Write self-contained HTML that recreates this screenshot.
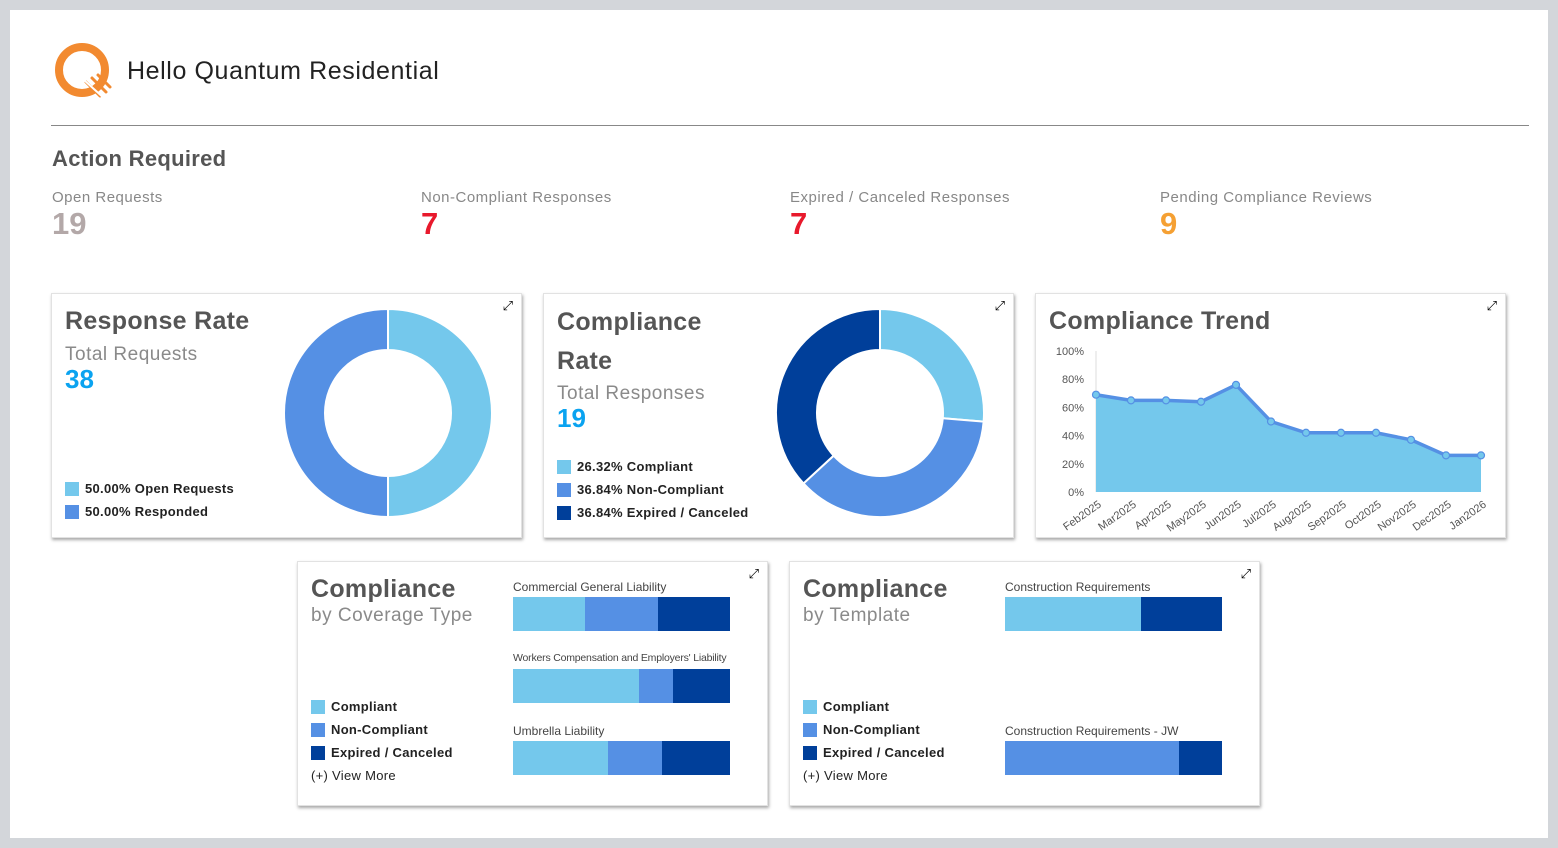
<!DOCTYPE html>
<html><head><meta charset="utf-8"><style>
*{margin:0;padding:0;box-sizing:border-box}
body{width:1558px;height:848px;background:#d3d6da;font-family:"Liberation Sans",sans-serif;position:relative;overflow:hidden}
#panel{position:absolute;left:10px;top:10px;width:1538px;height:828px;background:#fff}
.abs{position:absolute}
.card{position:absolute;background:#fff;box-shadow:1px 2px 3px rgba(0,0,0,.35);border:1px solid #e2e2e2}
.title{font-weight:bold;color:#555;font-size:25px;letter-spacing:.3px}
.sub{color:#8a8a8a;font-size:19px;letter-spacing:.5px}
.big{font-weight:bold;color:#0aa3f0;font-size:26px}
.lg{font-size:13px;font-weight:bold;color:#222;display:flex;align-items:center;height:23px;letter-spacing:.3px}
.sw{width:14px;height:14px;margin-right:6px}
.kl{font-size:15px;color:#888;letter-spacing:.5px}
.kv{font-size:31px;font-weight:bold}
.exp{position:absolute;right:8px;top:4px;font-size:13px;color:#000}
.bl{font-size:12px;color:#444;position:absolute}
</style></head><body>
<div id="panel"></div>
<svg class="abs" style="left:54px;top:42px" width="60" height="60">
<circle cx="28" cy="28" r="23" fill="none" stroke="#f28a30" stroke-width="8"/>
<g stroke="#f28a30" stroke-width="3" stroke-linecap="round"><line x1="32" y1="40" x2="46" y2="54"/><line x1="38" y1="36" x2="52" y2="50"/><line x1="44" y1="33" x2="56" y2="45"/></g>
<line x1="30" y1="38" x2="52" y2="58" stroke="#fff" stroke-width="2"/></svg>
<div class="abs" style="left:127px;top:57px;font-size:25px;color:#222;letter-spacing:.6px">Hello Quantum Residential</div>
<div class="abs" style="left:51px;top:125px;width:1478px;height:1px;background:#888"></div>
<div class="abs" style="left:52px;top:146px;font-size:22px;font-weight:bold;color:#555;letter-spacing:.3px">Action Required</div>

<div class="abs" style="left:52px;top:189px"><div class="kl">Open Requests</div><div class="kv" style="color:#b3a8a8">19</div></div>
<div class="abs" style="left:421px;top:189px"><div class="kl">Non-Compliant Responses</div><div class="kv" style="color:#e8192c">7</div></div>
<div class="abs" style="left:790px;top:189px"><div class="kl">Expired / Canceled Responses</div><div class="kv" style="color:#e8192c">7</div></div>
<div class="abs" style="left:1160px;top:189px"><div class="kl">Pending Compliance Reviews</div><div class="kv" style="color:#f5a033">9</div></div>

<div class="card" style="left:51px;top:293px;width:471px;height:245px">
<div class="exp">⤢</div>
<div class="abs title" style="left:13px;top:13px">Response Rate</div>
<div class="abs sub" style="left:13px;top:50px">Total Requests</div>
<div class="abs big" style="left:13px;top:70px">38</div>
<div class="abs" style="left:13px;top:183px">
<div class="lg"><span class="sw" style="background:#74c8ec"></span>50.00% Open Requests</div>
<div class="lg"><span class="sw" style="background:#5590e4"></span>50.00% Responded</div></div>
<svg class="abs" id="d1" style="left:0;top:0" width="471" height="245"></svg>
</div>

<div class="card" style="left:543px;top:293px;width:471px;height:245px">
<div class="exp">⤢</div>
<div class="abs title" style="left:13px;top:9px;line-height:39px">Compliance<br>Rate</div>
<div class="abs sub" style="left:13px;top:89px">Total Responses</div>
<div class="abs big" style="left:13px;top:109px">19</div>
<div class="abs" style="left:13px;top:161px">
<div class="lg"><span class="sw" style="background:#74c8ec"></span>26.32% Compliant</div>
<div class="lg"><span class="sw" style="background:#5590e4"></span>36.84% Non-Compliant</div>
<div class="lg"><span class="sw" style="background:#003f9a"></span>36.84% Expired / Canceled</div></div>
<svg class="abs" id="d2" style="left:0;top:0" width="471" height="245"></svg>
</div>

<div class="card" style="left:1035px;top:293px;width:471px;height:245px">
<div class="exp">⤢</div>
<div class="abs title" style="left:13px;top:13px">Compliance Trend</div>
<svg class="abs" id="trend" style="left:0;top:0" width="471" height="245"></svg>
</div>

<div class="card" style="left:297px;top:561px;width:471px;height:245px">
<div class="exp">⤢</div>
<div class="abs title" style="left:13px;top:13px">Compliance</div>
<div class="abs sub" style="left:13px;top:43px">by Coverage Type</div>
<div class="abs" style="left:13px;top:133px">
<div class="lg"><span class="sw" style="background:#74c8ec"></span>Compliant</div>
<div class="lg"><span class="sw" style="background:#5590e4"></span>Non-Compliant</div>
<div class="lg"><span class="sw" style="background:#003f9a"></span>Expired / Canceled</div>
<div style="font-size:13px;color:#222;margin-top:4px;letter-spacing:.3px">(+) View More</div></div>
<div id="cov"></div>
</div>

<div class="card" style="left:789px;top:561px;width:471px;height:245px">
<div class="exp">⤢</div>
<div class="abs title" style="left:13px;top:13px">Compliance</div>
<div class="abs sub" style="left:13px;top:43px">by Template</div>
<div class="abs" style="left:13px;top:133px">
<div class="lg"><span class="sw" style="background:#74c8ec"></span>Compliant</div>
<div class="lg"><span class="sw" style="background:#5590e4"></span>Non-Compliant</div>
<div class="lg"><span class="sw" style="background:#003f9a"></span>Expired / Canceled</div>
<div style="font-size:13px;color:#222;margin-top:4px;letter-spacing:.3px">(+) View More</div></div>
<div id="tpl"></div>
</div>

<script>
const responseValues=[50,50];
const complianceValues=[26.32,36.84,36.84];
const months=["Feb2025","Mar2025","Apr2025","May2025","Jun2025","Jul2025","Aug2025","Sep2025","Oct2025","Nov2025","Dec2025","Jan2026"];
const trendValues=[69,65,65,64,76,50,42,42,42,37,26,26];
const yTicks=[0,20,40,60,80,100];
const coverageCats=["Commercial General Liability","Workers Compensation and Employers' Liability","Umbrella Liability"];
const covCompliant=[1,11,7];
const covNonCompliant=[1,3,4];
const covExpired=[1,5,5];
const templateCats=["Construction Requirements","Construction Requirements - JW"];
const tplCompliant=[5,0];
const tplNonCompliant=[0,4];
const tplExpired=[3,1];
const COLORS=["#74c8ec","#5590e4","#003f9a"];
const NS="http://www.w3.org/2000/svg";
function mk(parent,tag,attrs){const e=document.createElementNS(NS,tag);for(const k in attrs)e.setAttribute(k,attrs[k]);parent.appendChild(e);return e;}
function donut(svg,vals,cx,cy,R,r){
  const tot=vals.reduce((a,b)=>a+b,0);let a0=-Math.PI/2;
  vals.forEach((v,i)=>{const a1=a0+v/tot*2*Math.PI;const big=(a1-a0)>Math.PI?1:0;
    const p=(rad,a)=>[cx+rad*Math.cos(a),cy+rad*Math.sin(a)];
    const [x0,y0]=p(R,a0),[x1,y1]=p(R,a1),[x2,y2]=p(r,a1),[x3,y3]=p(r,a0);
    const e=mk(svg,"path",{d:`M${x0} ${y0}A${R} ${R} 0 ${big} 1 ${x1} ${y1}L${x2} ${y2}A${r} ${r} 0 ${big} 0 ${x3} ${y3}Z`,fill:COLORS[i],stroke:"#fff","stroke-width":2});
    
    
    a0=a1;});
}
donut(document.getElementById("d1"),responseValues,336,119,104,63);
donut(document.getElementById("d2"),complianceValues,336,119,104,63);
(function(){
  const svg=document.getElementById("trend");
  const x0=60,x1=445,yb=198,yt=57;
  const X=i=>x0+i*(x1-x0)/(months.length-1);
  const Y=v=>yb-(v/100)*(yb-yt);
  mk(svg,"line",{x1:x0,y1:yt,x2:x0,y2:yb,stroke:"#ddd"});
  yTicks.forEach(t=>{const e=mk(svg,"text",{x:48,y:Y(t)+4,"text-anchor":"end","font-size":11,fill:"#555","font-family":"Liberation Sans"});e.textContent=t+"%";
    
    });
  let d=`M${X(0)} ${yb}`;trendValues.forEach((v,i)=>d+=`L${X(i)} ${Y(v)}`);d+=`L${X(trendValues.length-1)} ${yb}Z`;
  const area=mk(svg,"path",{d,fill:"#74c8ec"});
  
  
  const line=mk(svg,"polyline",{points:trendValues.map((v,i)=>X(i)+","+Y(v)).join(" "),fill:"none",stroke:"#5590e4","stroke-width":3.5});
  
  
  trendValues.forEach((v,i)=>{const c=mk(svg,"circle",{cx:X(i),cy:Y(v),r:3.5,fill:"#74c8ec",stroke:"#5590e4","stroke-width":1.2});
    
    });
  months.forEach((m,i)=>{const e=mk(svg,"text",{x:X(i)+6,y:yb+14,"text-anchor":"end","font-size":11,fill:"#555","font-family":"Liberation Sans",transform:`rotate(-35 ${X(i)+6} ${yb+14})`});e.textContent=m;
    
    });
})();
function bars(container,cats,series,tops,labelTops){
  const W=217,left=215;
  cats.forEach((c,i)=>{
    const lab=document.createElement("div");lab.className="bl";lab.style.left=left+"px";lab.style.top=labelTops[i]+"px";lab.textContent=c;
    if(c.length>40){lab.style.fontSize="10.5px";lab.style.letterSpacing="-.2px";}
    
    
    container.appendChild(lab);
    const tot=series.reduce((a,s)=>a+s[i],0);let x=left;
    series.forEach((s,k)=>{const w=s[i]/tot*W;if(w<=0)return;
      const b=document.createElement("div");b.style.cssText=`position:absolute;left:${x}px;top:${tops[i]}px;width:${w}px;height:34px;background:${COLORS[k]}`;
      
      
      container.appendChild(b);x+=w;});
  });
}
bars(document.getElementById("cov"),coverageCats,[covCompliant,covNonCompliant,covExpired],[35,107,179],[18,90,162]);
bars(document.getElementById("tpl"),templateCats,[tplCompliant,tplNonCompliant,tplExpired],[35,179],[18,162]);
</script>
</body></html>
